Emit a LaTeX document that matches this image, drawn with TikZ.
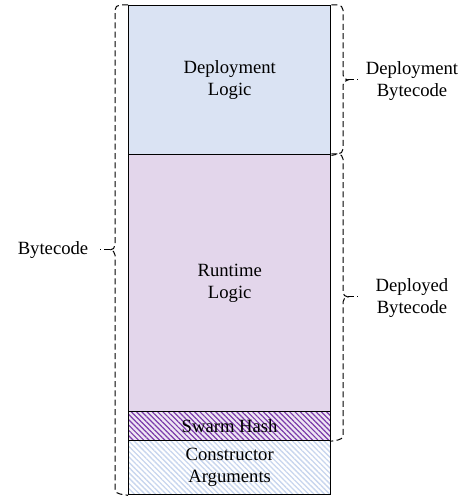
\documentclass[tikz,border=0pt]{standalone}
\usepackage{fontspec}
\setmainfont{Liberation Serif}
\usetikzlibrary{patterns.meta}
\definecolor{deplblue}{HTML}{DAE3F3}
\definecolor{runlav}{HTML}{E3D6EB}
\definecolor{swarmpurple}{HTML}{7A3BAA}
\definecolor{swarmbg}{HTML}{EFE6F4}
\definecolor{ctorblue}{HTML}{C8D6EE}
\begin{document}
\begin{tikzpicture}[x=0.75pt,y=0.75pt,
  seg/.style={draw=black, line width=1.1pt, inner sep=0pt, anchor=north west,
    minimum width=151.5pt, align=center, font=\fontsize{14}{16.5}\selectfont},
  bracepath/.style={draw=black, line width=0.75pt, dash pattern=on 4.5pt off 2.5pt},
  lbl/.style={align=center, inner sep=0pt, font=\fontsize{14}{16.5}\selectfont}]
\useasboundingbox (0,0) rectangle (471,497);
% column segments
\node[seg, fill=deplblue, minimum height=111.75pt] (deploy) at (128,492) {Deployment\\Logic};
\node[seg, fill=runlav, minimum height=192.75pt] (runtime) at (128,343) {Runtime\\Logic};
\node[seg, preaction={fill=swarmbg}, pattern={Lines[angle=-45,distance=2.8pt,line width=0.9pt]}, pattern color=swarmpurple, minimum height=21.75pt] (swarm) at (128,86) {};
\node[lbl] (swarmtxt) at (swarm.center) {Swarm Hash};
\node[seg, preaction={fill=white}, pattern={Lines[angle=-45,distance=2.8pt,line width=1pt]}, pattern color=ctorblue, minimum height=40.5pt] (ctor) at (128,57) {};
\node[lbl] (ctortxt) at (ctor.center) {Constructor\\Arguments};
% left brace
\coordinate (lbTip) at (110,247);
\coordinate (lbEnd) at (100,247);
\path[bracepath] (deploy.north west) -- (120,492) to[out=180,in=90] (115,487) -- (115,252)
  to[out=-90,in=0] (lbTip) to[out=0,in=90] (115,242) -- (115,8) to[out=-90,in=180] (120,3) -- (ctor.south west);
\node[lbl] (bytecode) at (53,247) {Bytecode};
\path[bracepath] (lbTip) -- (lbEnd);
% right brace 1 (deployment bytecode)
\coordinate (rb1Tip) at (348,417);
\coordinate (rb1End) at (358,417);
\path[bracepath] (deploy.north east) -- (338,492) to[out=0,in=90] (343,487) -- (343,422)
  to[out=-90,in=180] (rb1Tip) to[out=180,in=90] (343,412) -- (343,348) to[out=-90,in=0] (338,343) -- (deploy.south east);
\node[lbl] (depbyte) at (412,416) {Deployment\\Bytecode};
\path[bracepath] (rb1Tip) -- (rb1End);
% right brace 2 (deployed bytecode)
\coordinate (rb2Tip) at (348,200);
\coordinate (rb2End) at (358,200);
\path[bracepath] (runtime.north east) -- (338,343) to[out=0,in=90] (343,338) -- (343,205)
  to[out=-90,in=180] (rb2Tip) to[out=180,in=90] (343,195) -- (343,62) to[out=-90,in=0] (338,57) -- (swarm.south east);
\node[lbl] (deplbyte) at (412,199) {Deployed\\Bytecode};
\path[bracepath] (rb2Tip) -- (rb2End);
\end{tikzpicture}
\end{document}
